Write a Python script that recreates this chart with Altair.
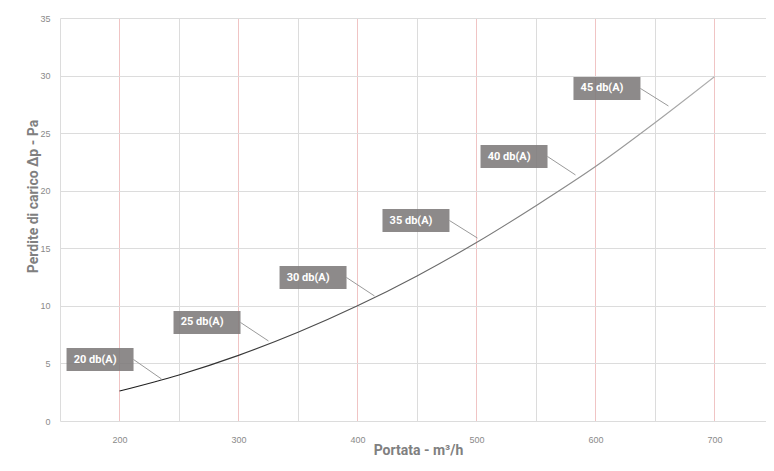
import altair as alt
import pandas as pd

# Curve data
portata = [200, 250, 300, 350, 400, 450, 500, 550, 600, 650, 700]
perdite = [2.6, 4.0, 5.7, 7.7, 10.0, 12.6, 15.5, 18.7, 22.1, 25.9, 29.9]

# Annotation labels
labels = ["20 db(A)", "25 db(A)", "30 db(A)", "35 db(A)", "40 db(A)", "45 db(A)"]
box_x0 = [155.5, 245.4, 334.5, 421.0, 503.4, 581.5]
box_x1 = [211.8, 301.7, 390.8, 477.3, 559.7, 637.8]
box_y0 = [4.34, 7.56, 11.46, 16.41, 21.97, 27.88]
box_y1 = [6.34, 9.55, 13.46, 18.41, 23.97, 29.88]
lead_x = [235.3, 325.2, 414.3, 500.8, 583.2, 661.3]
lead_y = [3.65, 6.95, 10.86, 15.89, 21.37, 27.36]

x_ticks = [150, 200, 250, 300, 350, 400, 450, 500, 550, 600, 650, 700]
y_ticks = [0, 5, 10, 15, 20, 25, 30, 35]

curve = pd.DataFrame({"Q": portata, "dp": perdite})
ann = pd.DataFrame({
    "label": labels,
    "x0": box_x0, "x1": box_x1, "y0": box_y0, "y1": box_y1,
    "lx": lead_x, "ly": lead_y,
})
ann["ym"] = (ann["y0"] + ann["y1"]) / 2
ann["tx"] = ann["x0"] + 6

xscale = alt.Scale(domain=[150, 743.3], nice=False, zero=False)
yscale = alt.Scale(domain=[0, 35], nice=False)

FONT = "Roboto, Liberation Sans, sans-serif"

xaxis = alt.Axis(
    values=x_ticks,
    labelExpr="datum.value % 100 === 0 ? datum.label : ''",
    title="Portata - m³/h",
    grid=True,
    gridColor=alt.condition("datum.value % 100 === 0", alt.value("#f0c4c4"), alt.value("#dcdcdc")),
    domain=False, ticks=False,
    labelColor="#8a8a8a", labelFontSize=9, labelPadding=14, labelFont="Liberation Sans",
    titleColor="#808080", titleFontSize=14, titleFont=FONT, titleFontWeight="bold",
    titleX=358, titleY=29, titleBaseline="middle", titleAlign="center",
)
yaxis = alt.Axis(
    values=y_ticks,
    title="Perdite di carico Δp  - Pa",
    grid=True, gridColor="#dcdcdc",
    domain=False, ticks=False,
    labelColor="#8a8a8a", labelFontSize=9, labelPadding=10, labelFont="Liberation Sans",
    titleColor="#808080", titleFontSize=14, titleFont=FONT, titleFontWeight="bold",
    titleX=-27, titleY=178, titleBaseline="middle", titleAlign="center", titleAngle=270,
)

line = alt.Chart(curve).mark_line(
    strokeWidth=1.1,
    interpolate="monotone",
    color=alt.LinearGradient(
        gradient="linear",
        stops=[alt.GradientStop(color="#1a1a1a", offset=0), alt.GradientStop(color="#b0b0b0", offset=1)],
        x1=0, x2=1, y1=0, y2=0,
    ),
).encode(
    x=alt.X("Q:Q", scale=xscale, axis=xaxis),
    y=alt.Y("dp:Q", scale=yscale, axis=yaxis),
)

leaders = alt.Chart(ann).mark_rule(color="#9a9a9a", strokeWidth=1).encode(
    x="x1:Q", y="ym:Q", x2="lx:Q", y2="ly:Q"
)

boxes = alt.Chart(ann).mark_rect(color="#7d7a7a", opacity=0.88).encode(
    x="x0:Q", x2="x1:Q", y="y0:Q", y2="y1:Q"
)

texts = alt.Chart(ann).mark_text(
    align="left", baseline="middle", color="white", fontWeight="bold", fontSize=11, font=FONT
).encode(x="tx:Q", y="ym:Q", text="label:N")

chart = alt.layer(line, leaders, boxes, texts).properties(
    width=706, height=403,
    autosize=alt.AutoSizeParams(type="none"),
    padding={"left": 52, "top": 10, "right": 0, "bottom": 40},
).configure_view(stroke=None)

chart.save("out.html", embed_options={"renderer": "svg", "actions": False})
